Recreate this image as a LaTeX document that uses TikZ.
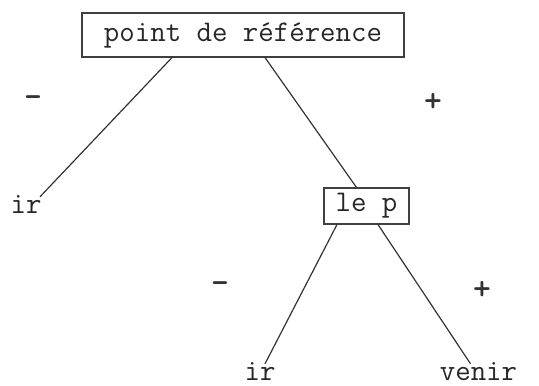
\documentclass[tikz,border=0pt]{standalone}
\usepackage{fontspec}
\begin{document}
\begin{tikzpicture}[x=1pt,y=-1pt,
  lbl/.style={font=\fontsize{30}{33}\selectfont\ttfamily, text=black!85, inner sep=0pt},
  boxed/.style={lbl, draw=black!75, line width=1.1pt},
  sign/.style={font=\fontsize{34}{36}\selectfont\ttfamily\bfseries, text=black!80, inner sep=0pt},
  branch/.style={draw=black!80, line width=1.2pt}]
\useasboundingbox (0,0) rectangle (539,386);
\node[boxed, minimum width=322pt, minimum height=44pt] (top) at (243,35) {point de référence};
\node[boxed, minimum width=85pt, minimum height=36pt] (lep) at (366.5,206) {le p};
\node[lbl, anchor=base] (irA) at (26,213) {ir};
\node[lbl, anchor=base] (irB) at (260,380) {ir};
\node[lbl, anchor=base] (venir) at (478.5,380) {venir};
\node[sign] (m1) at (33,102) {-};
\node[sign] (p1) at (433,102) {+};
\node[sign] (m2) at (220,288) {-};
\node[sign] (p2) at (482,290) {+};
\draw[branch] ([xshift=-71pt]top.south) -- ([xshift=14pt,yshift=-2pt]irA.north);
\draw[branch] ([xshift=22pt]top.south) -- ([xshift=-10pt]lep.north);
\draw[branch] ([xshift=-29.5pt]lep.south) -- ([xshift=5pt,yshift=-2pt]irB.north);
\draw[branch] ([xshift=11.5pt]lep.south) -- ([xshift=-8pt,yshift=-2pt]venir.north);
\end{tikzpicture}
\end{document}
